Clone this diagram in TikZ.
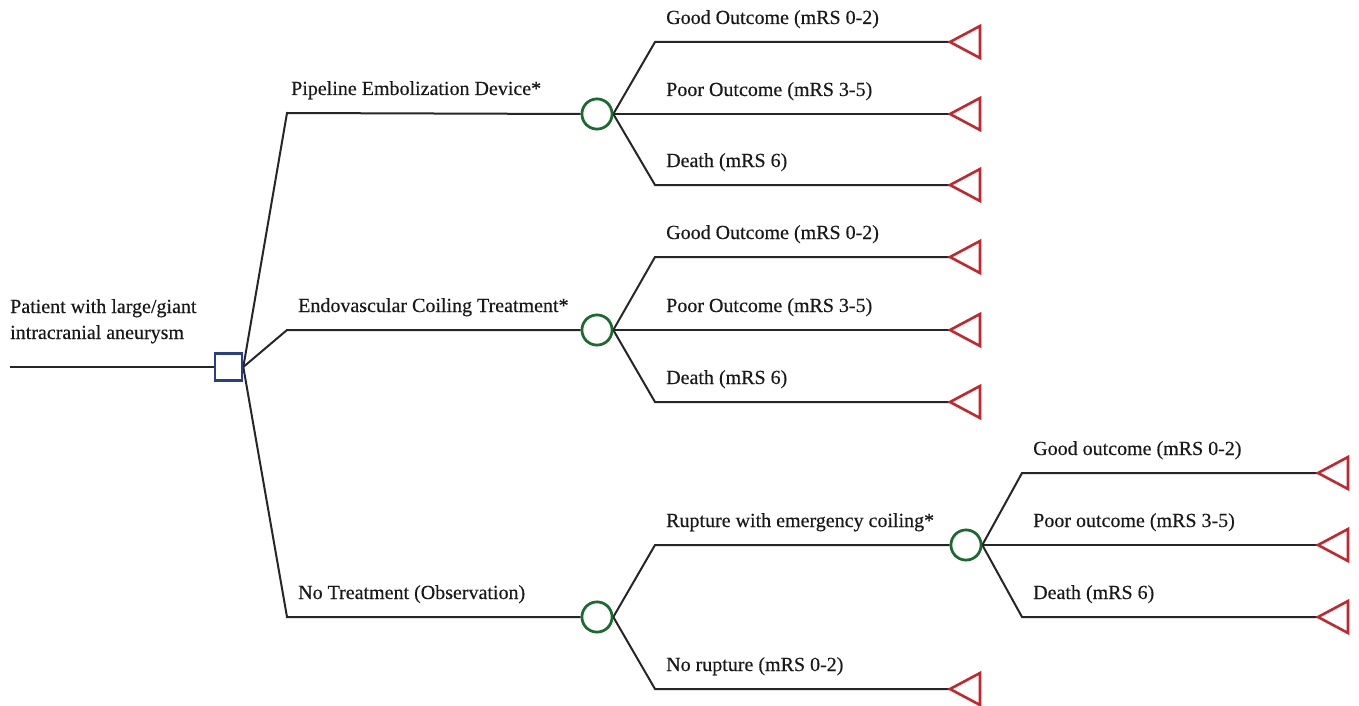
\documentclass[tikz,border=0pt]{standalone}
\usepackage{fontspec}
\setmainfont{Liberation Serif}[FakeBold=0.35]
\definecolor{decblue}{HTML}{2B3E8C}
\definecolor{chgreen}{HTML}{1B6A30}
\definecolor{termred}{HTML}{C4262E}
\tikzset{
  edge/.style={line width=2pt, black!85},
  decision/.style={draw=decblue, line width=2.6pt, fill=white, minimum size=27pt, inner sep=0pt},
  chance/.style={draw=chgreen, line width=2.6pt, fill=white, circle, minimum size=30pt, inner sep=0pt},
  term/.style={draw=termred, line width=2.6pt},
  lbl/.style={anchor=base west, inner sep=0pt, font=\fontsize{20}{24}\selectfont, text=black!90},
}
\newcommand{\termtri}[1]{\draw[term] (#1) -- ++(30,-16) -- ++(0,32) -- cycle;}
\begin{document}
\begin{tikzpicture}[x=1pt,y=-1pt]
\useasboundingbox[fill=white] (0,0) rectangle (1359,706);

% root
\coordinate (start) at (10,367);
\node[decision] (sq) at (228.5,367) {};
\node[lbl] (root1) at (10,313) {Patient with large/giant};
\node[lbl] (root2) at (10,339) {intracranial aneurysm};

% chance nodes
\node[chance] (c1) at (597,114) {};
\node[chance] (c2) at (597,330) {};
\node[chance] (c3) at (597,617) {};
\node[chance] (c4) at (966,545) {};

% corners from decision
\coordinate (k1) at (287,113);
\coordinate (k2) at (287,330);
\coordinate (k3) at (287,617);

% corners from chance nodes
\coordinate (a1) at (655,42);
\coordinate (a3) at (655,185);
\coordinate (b1) at (655,257);
\coordinate (b3) at (655,402);
\coordinate (d1) at (655,545);
\coordinate (d2) at (655,689);
\coordinate (e1) at (1022,473);
\coordinate (e3) at (1022,617);

% terminal apexes
\coordinate (t1) at (950,42);
\coordinate (t2) at (950,114);
\coordinate (t3) at (950,185);
\coordinate (t4) at (950,257);
\coordinate (t5) at (950,330);
\coordinate (t6) at (950,402);
\coordinate (t7) at (950,689);
\coordinate (t8) at (1318,473);
\coordinate (t9) at (1318,545);
\coordinate (t10) at (1318,617);

% edges
\draw[edge] (start) -- (sq.west);
\draw[edge] (sq.east) -- (k1) -- (c1.west);
\draw[edge] (sq.east) -- (k2) -- (c2.west);
\draw[edge] (sq.east) -- (k3) -- (c3.west);

\draw[edge] (c1.east) -- (a1) -- (t1);
\draw[edge] (c1.east) -- (t2);
\draw[edge] (c1.east) -- (a3) -- (t3);

\draw[edge] (c2.east) -- (b1) -- (t4);
\draw[edge] (c2.east) -- (t5);
\draw[edge] (c2.east) -- (b3) -- (t6);

\draw[edge] (c3.east) -- (d1) -- (c4.west);
\draw[edge] (c3.east) -- (d2) -- (t7);

\draw[edge] (c4.east) -- (e1) -- (t8);
\draw[edge] (c4.east) -- (t9);
\draw[edge] (c4.east) -- (e3) -- (t10);

% redraw nodes on top
\node[decision] at (sq) {};
\node[chance] at (c1) {};
\node[chance] at (c2) {};
\node[chance] at (c3) {};
\node[chance] at (c4) {};

% terminals
\termtri{t1}\termtri{t2}\termtri{t3}\termtri{t4}\termtri{t5}
\termtri{t6}\termtri{t7}\termtri{t8}\termtri{t9}\termtri{t10}

% labels
\node[lbl] (l1) at (291,95) {Pipeline Embolization Device*};
\node[lbl] (l2) at (298,312) {Endovascular Coiling Treatment*};
\node[lbl] (l3) at (298,599) {No Treatment (Observation)};

\node[lbl] (o1) at (666,24) {Good Outcome (mRS 0-2)};
\node[lbl] (o2) at (666,96) {Poor Outcome (mRS 3-5)};
\node[lbl] (o3) at (666,167) {Death (mRS 6)};
\node[lbl] (o4) at (666,239) {Good Outcome (mRS 0-2)};
\node[lbl] (o5) at (666,312) {Poor Outcome (mRS 3-5)};
\node[lbl] (o6) at (666,384) {Death (mRS 6)};
\node[lbl] (o7) at (666,527) {Rupture with emergency coiling*};
\node[lbl] (o8) at (666,671) {No rupture (mRS 0-2)};
\node[lbl] (o9) at (1033,455) {Good outcome (mRS 0-2)};
\node[lbl] (o10) at (1033,527) {Poor outcome (mRS 3-5)};
\node[lbl] (o11) at (1033,599) {Death (mRS 6)};
\end{tikzpicture}
\end{document}
